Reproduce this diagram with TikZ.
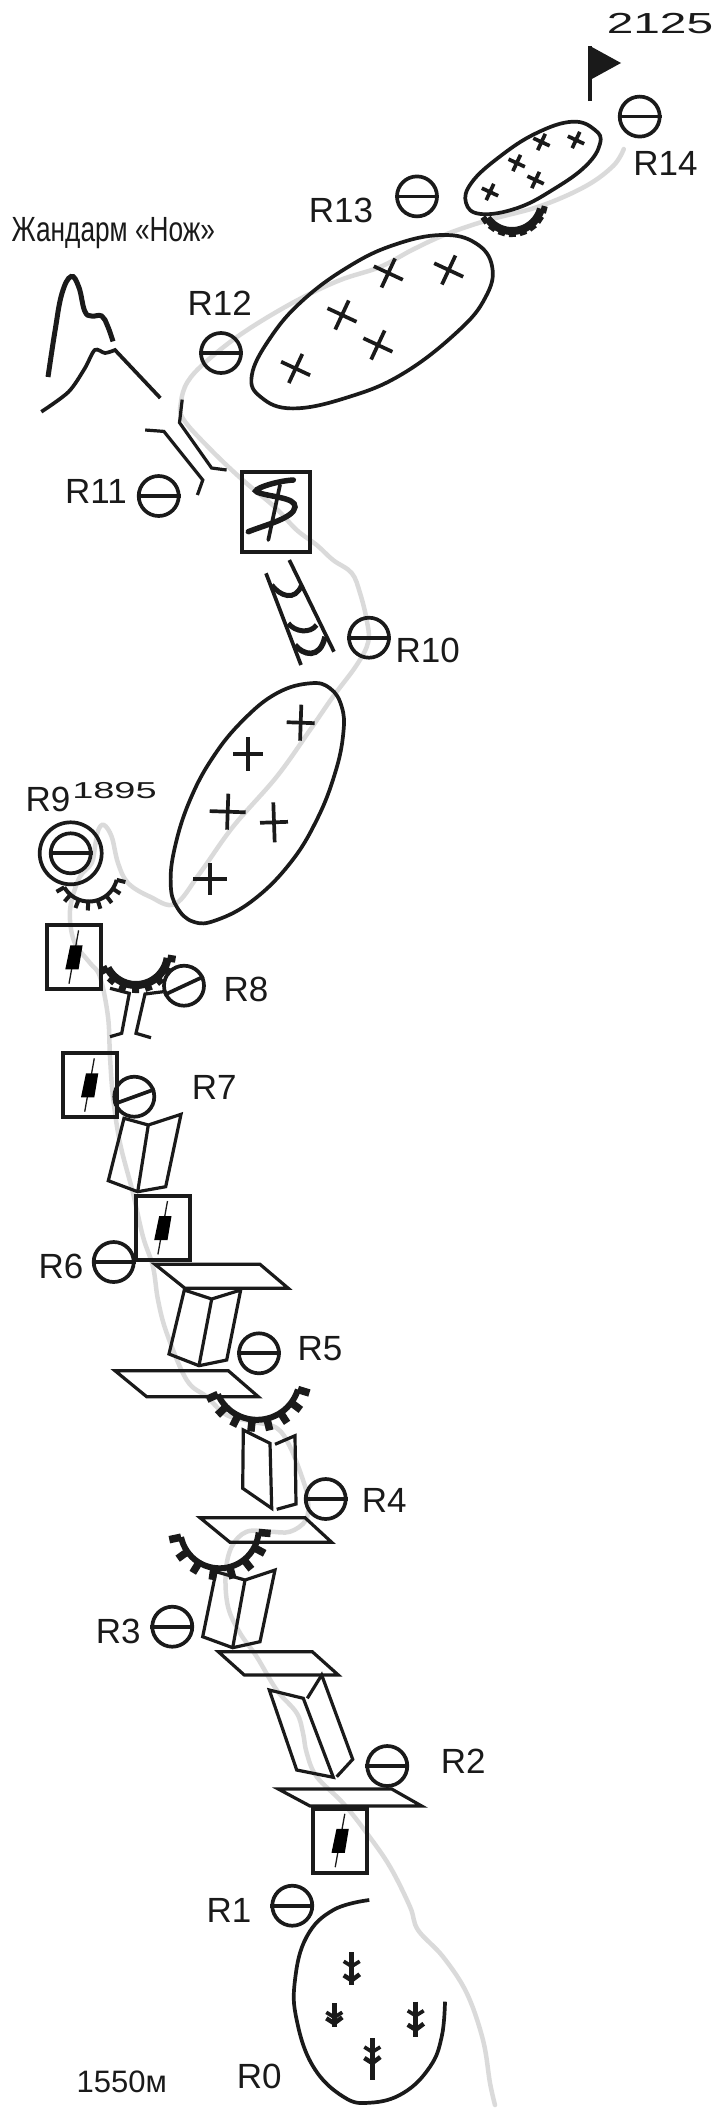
\documentclass[tikz,border=0pt]{standalone}
\usepackage{fontspec}
\setmainfont{Liberation Sans}
\newfontfamily\narrowfont[FakeStretch=0.75]{Liberation Sans}
\newfontfamily\widefont[FakeStretch=1.65]{Liberation Sans}
\definecolor{ink}{HTML}{1A1A1A}
\definecolor{route}{HTML}{DADADA}

\newcommand{\crux}[5]{\draw[rock, shift={(#1,#2)}, rotate=#5] (-#3,0) -- (#3,0) (0,-#4) -- (0,#4);}
\newcommand{\overhang}[8]{%
    \draw[rock, line width=#6] plot[domain=#4:#5, samples=30] ({#1+#3*cos(\x)},{#2+#3*sin(\x)});
    \foreach \k in {0,1,...,7} {
        \pgfmathsetmacro{\a}{#4+(#5-#4)*\k/7}
        \draw[rock, line width=#8] ({#1+#3*cos(\a)},{#2+#3*sin(\a)}) -- ({#1+(#3+#7)*cos(\a)},{#2+(#3+#7)*sin(\a)});
    }
}
\newcommand{\pitonbox}[3]{%
    \node[pbox] (#1) at (#2,#3) {};
    \draw[ink, line width=1.3] (#2+4.8,#3-26.7) -- (#2-4.8,#3+26.7);
    \fill[black] (#2-3.5,#3-11.7) -- (#2+8.8,#3-11.7) -- (#2+4.8,#3+12.3) -- (#2-8.5,#3+12.3) -- cycle;
}
\newcommand{\belay}[3]{%
    \node[bolt] (#1) at (#2,#3) {};
    \draw[rock] (#1.west) -- (#1.east);
}
\newcommand{\fir}[4]{%
    \draw[rock, line width=4.5] (#1,#2) -- (#1,#3);
    \draw[rock] (#1-8,#2+9) -- (#1,#2+14) -- (#1+8,#2+9);
    \draw[rock, line width=4.5] (#1-8,#2+#4) -- (#1,#2+#4+5) -- (#1+8,#2+#4-1);
}

\begin{document}
\begin{tikzpicture}[x=1pt, y=-1pt]
    \tikzstyle{rock} = [draw=ink, line width=3.7, line join=miter]
    \tikzstyle{ledge} = [draw=ink, line width=3.2, line join=miter]
    \tikzstyle{rlabel} = [inner sep=0, text=ink, font=\fontsize{35}{35}\selectfont]
    \tikzstyle{bolt} = [circle, draw=ink, line width=3.7, minimum size=40, inner sep=0]
    \tikzstyle{pbox} = [rectangle, draw=ink, line width=4, minimum width=54, minimum height=64, inner sep=0]
    \useasboundingbox (0,0) rectangle (718,2110);

    \draw[route, line width=4.5, line cap=round] plot[smooth, tension=.6] coordinates {(623.8,149) (613.5,165.6) (586,186) (540.5,206) (485,221) (444.3,235) (412,250) (380,267) (338.8,280.6) (293,302.6) (242.7,333) (206,361.7) (187.5,382) (181,402) (183.2,419) (210.7,449.6) (242.7,480) (274.7,507) (296.7,530) (316.7,545) (333,560) (351.7,573) (360,593) (366.7,620) (368.3,641.7) (356.7,665) (333,696.7) (310,730) (276.7,776.7) (233,826.7) (200,873) (175,904) (150,896.7) (128,883) (118,863) (111.7,836.7) (104,825) (98.3,830) (95,846.7) (91.7,863) (80,876.7) (71.7,900) (70,920) (75,943.3) (90,963) (100,976.7) (108,1016.7) (110,1056.7) (113,1096.7) (120,1143) (133,1193) (143,1236.7) (153,1266.7) (158,1300) (166.7,1333) (186.7,1380) (206.7,1396.7) (226.7,1415) (253,1421.7) (276.7,1428) (290,1446.7) (303,1480) (308,1500) (306,1520) (290,1531.7) (270,1531.7) (246.7,1531.7) (231.7,1546.7) (225.7,1573) (228,1606.7) (240,1633) (256.7,1656.7) (276.7,1690) (296.7,1713) (303,1733) (306.7,1753) (316.7,1776.7) (343,1803) (366.7,1833) (390,1866.7) (410,1906.7) (418,1930) (443,1956.7) (466.7,1993) (483,2040) (490,2083) (495,2105)};

    \node[inner sep=0, text=ink, font=\widefont\fontsize{29}{29}\selectfont] (top) at (660,24) {2125};
    \draw[rock] (590,101) -- (590,46);
    \fill[ink] (590,46) -- (621,63) -- (590,80) -- cycle;

    \belay{R14}{639.7}{116.6}
    \node[rlabel] (lR14) at (665.5,163) {R14};
    \belay{R13}{417}{196.4}
    \node[rlabel] (lR13) at (341,210) {R13};
    \belay{R12}{221}{353}
    \node[rlabel] (lR12) at (219.8,303) {R12};
    \belay{R11}{158.7}{496}
    \node[rlabel] (lR11) at (96,491) {R11};
    \belay{R10}{369}{637.7}
    \node[rlabel] (lR10) at (427.7,650.7) {R10};
    \node[rlabel, anchor=base west] (gend) at (11.4,241) {\narrowfont Жандарм «Нож»};

    \draw[rock] plot[smooth cycle, tension=.7] coordinates {(572.3,121.7) (595,130) (600,143.7) (586,165.7) (554,189) (517.4,208) (480.8,214) (466,202.8) (471.6,182.6) (499,157.2) (535.6,133.5)};
    \crux{576}{140}{9}{9}{-25}
    \crux{541.5}{142}{9}{9}{-25}
    \crux{516.7}{163}{9}{9}{-25}
    \crux{535.6}{180}{9}{9}{-25}
    \crux{490}{192}{9}{9}{-25}
    \overhang{512}{201}{30}{145}{15}{8}{6}{7}

    \draw[rock] plot[smooth cycle, tension=.7] coordinates {(441.8,235) (476,243.4) (492.2,267) (485.4,297.5) (457.9,331.3) (403,373.6) (348,397.2) (293,408.4) (261,397.2) (251.8,375.3) (270.2,338) (302.2,300.9) (348,267) (393.7,245)};
    \crux{388.3}{273}{16}{16}{-25}
    \crux{448.7}{270}{16}{16}{-25}
    \crux{342}{315}{16}{16}{-25}
    \crux{377.9}{345}{16}{16}{-25}
    \crux{295.6}{368.5}{16}{16}{-25}

    \draw[rock, line width=5] plot[smooth, tension=.7] coordinates {(48,377) (55,331) (61.8,294) (71,276.5) (78.8,287) (84.7,311) (91.5,316) (101.7,316) (107.6,326) (113,341.4)};
    \draw[rock] plot[smooth, tension=.5] coordinates {(41.3,411.8) (68.4,392) (84.7,368.5) (94.8,350) (105,353) (115,350)} -- (160.3,398);

    \draw[ledge] (182.2,399.6) -- (179.5,422.6) -- (211.6,468) -- (226.6,470);
    \draw[ledge] (145.2,430) -- (163.9,431.4) -- (202.8,480) -- (197.4,495);

    \node[pbox, minimum width=68, minimum height=80] (sbox) at (276,511.5) {};
    \draw[rock, line width=5.5, line cap=round] (293.3,480) .. controls (275,481) and (250,490) .. (257,492) .. controls (268,497) and (296,497) .. (295,507) .. controls (294,518) and (265,525) .. (248.3,531.7);
    \draw[rock, line cap=round] (280,485) -- (268.3,540);

    \draw[rock] (289.3,560) -- (334,651.7);
    \draw[rock] (266,573.3) -- (301,665);
    \draw[rock, line width=5] (271.7,585) .. controls (280,596) and (295,602) .. (301.7,585);
    \draw[rock, line width=5] (288.3,623.3) .. controls (295,632) and (310,634) .. (316.7,625);
    \draw[rock, line width=5.5] (295,645) .. controls (303,655) and (320,660) .. (325,636.7);

    \draw[rock] plot[smooth cycle, tension=.7] coordinates {(310,683.3) (330,688.3) (341.7,706.7) (343.3,733.3) (335,773.3) (316.7,820) (290,863.3) (253.3,900) (216.7,920) (193.3,921.7) (176.7,906.7) (170.7,883.3) (175,846.7) (190,800) (213.3,756.7) (243.3,720) (276.7,693.3)};
    \crux{300.7}{722.7}{14}{18}{-2}
    \crux{248.3}{754.3}{15}{17}{0}
    \crux{227.7}{811.7}{18}{18}{-2}
    \crux{274}{822.3}{14}{20}{2}
    \crux{210}{879.3}{17}{16}{0}

    \node[circle, draw=ink, line width=3.7, minimum size=62, inner sep=0] (R9o) at (70.7,853.3) {};
    \belay{R9}{70.7}{853.3}
    \node[rlabel] (lR9) at (48,799.3) {R9};
    \node[inner sep=0, text=ink, font=\widefont\fontsize{23}{23}\selectfont] (alt) at (114.5,791) {1895};
    \overhang{89}{873}{28.5}{150}{14}{4}{9}{4}

    \pitonbox{bR8}{73.8}{957}
    \overhang{136}{953}{32}{152}{9}{8}{8}{7}
    \node[bolt] (R8) at (184,985.7) {};
    \draw[rock] (R8.205) -- (R8.25);
    \node[rlabel] (lR8) at (246,989) {R8};
    \draw[ledge] (110,988.3) -- (129.3,993.3) -- (121.7,1033.3) -- (110,1036.7);
    \draw[ledge] (163.3,991.7) -- (145,994) -- (136,1033.3) -- (151,1037.7);

    \pitonbox{bR7}{89.5}{1085}
    \node[bolt] (R7) at (134.3,1096.7) {};
    \draw[rock] (R7.200) -- (R7.20);
    \node[rlabel] (lR7) at (214.3,1087.3) {R7};
    \draw[ledge] (124,1118.3) -- (148.3,1125) -- (181,1114.3) -- (165.7,1186.7) -- (137.7,1191.7) -- (108.3,1180.7) -- cycle;
    \draw[ledge] (148.3,1125) -- (137.7,1191.7);

    \pitonbox{bR6}{162.7}{1227.7}
    \belay{R6}{113.7}{1262}
    \node[rlabel] (lR6) at (61,1266) {R6};
    \draw[ledge] (155,1264.3) -- (260,1264.3) -- (288.3,1288.3) -- (185,1288.3) -- cycle;
    \draw[ledge] (184.3,1290) -- (211.7,1299) -- (240.7,1290) -- (226.7,1360) -- (199,1365.7) -- (169,1354) -- cycle;
    \draw[ledge] (211.7,1299) -- (199,1365.7);
    \belay{R5}{259}{1353.3}
    \node[rlabel] (lR5) at (320,1349) {R5};

    \draw[ledge] (115,1370.7) -- (228.3,1370.7) -- (258.3,1396.7) -- (146.7,1396.7) -- cycle;
    \overhang{257}{1377}{42.8}{156}{17}{6}{12}{7.5}

    \draw[ledge] (243.3,1430) -- (270,1443.3) -- (271.7,1508.3) -- (242.7,1488.3) -- cycle;
    \draw[ledge] (275,1444.3) -- (295,1435.7) -- (296,1504) -- (276.7,1509.3);
    \belay{R4}{325.7}{1499}
    \node[rlabel] (lR4) at (384.3,1500) {R4};
    \draw[ledge] (200,1517.7) -- (305,1517.7) -- (331.7,1542.3) -- (230,1542.3) -- cycle;

    \overhang{219.5}{1529}{39.3}{168}{5}{6}{12}{7.5}
    \draw[ledge] (216,1571.7) -- (245,1580) -- (275,1570) -- (260,1641.7) -- (232.7,1647.7) -- (202.7,1636.7) -- cycle;
    \draw[ledge] (245,1580) -- (232.7,1647.7);
    \belay{R3}{172.3}{1626.7}
    \node[rlabel] (lR3) at (118.3,1631) {R3};
    \draw[ledge] (218.3,1651.7) -- (312.3,1651.7) -- (338.3,1675) -- (244.3,1675) -- cycle;

    \draw[ledge] (336.7,1776.7) -- (352.7,1759.3) -- (321.7,1675) -- (307.3,1698.3);
    \draw[ledge] (269.3,1690) -- (303.3,1698.3) -- (333.3,1777.3) -- (296.7,1770) -- cycle;
    \belay{R2}{387.3}{1766}
    \node[rlabel] (lR2) at (463.3,1761.7) {R2};
    \draw[ledge] (278.3,1789) -- (391.7,1789) -- (421.7,1806) -- (310,1806) -- cycle;

    \pitonbox{bR1}{340}{1840.5}
    \belay{R1}{292.3}{1905.7}
    \node[rlabel] (lR1) at (229,1910) {R1};

    \draw[rock] plot[smooth, tension=.7] coordinates {(369.3,1900) (333.3,1910) (306.7,1936.7) (295,1980) (296.7,2020) (313.3,2066.7) (343.3,2096.7) (370,2102.7) (403.3,2093) (430,2066.7) (441.7,2036.7) (445,2001.7)};
    \fir{351.7}{1952.3}{1985}{23}
    \fir{334.3}{2003.3}{2026.7}{15}
    \fir{415.7}{2001.7}{2037.3}{23}
    \fir{372.3}{2038}{2080}{20}
    \node[rlabel] (lR0) at (259.3,2076) {R0};
    \node[rlabel, font=\fontsize{31}{31}\selectfont] (base) at (121.7,2082.3) {1550м};
\end{tikzpicture}
\end{document}
